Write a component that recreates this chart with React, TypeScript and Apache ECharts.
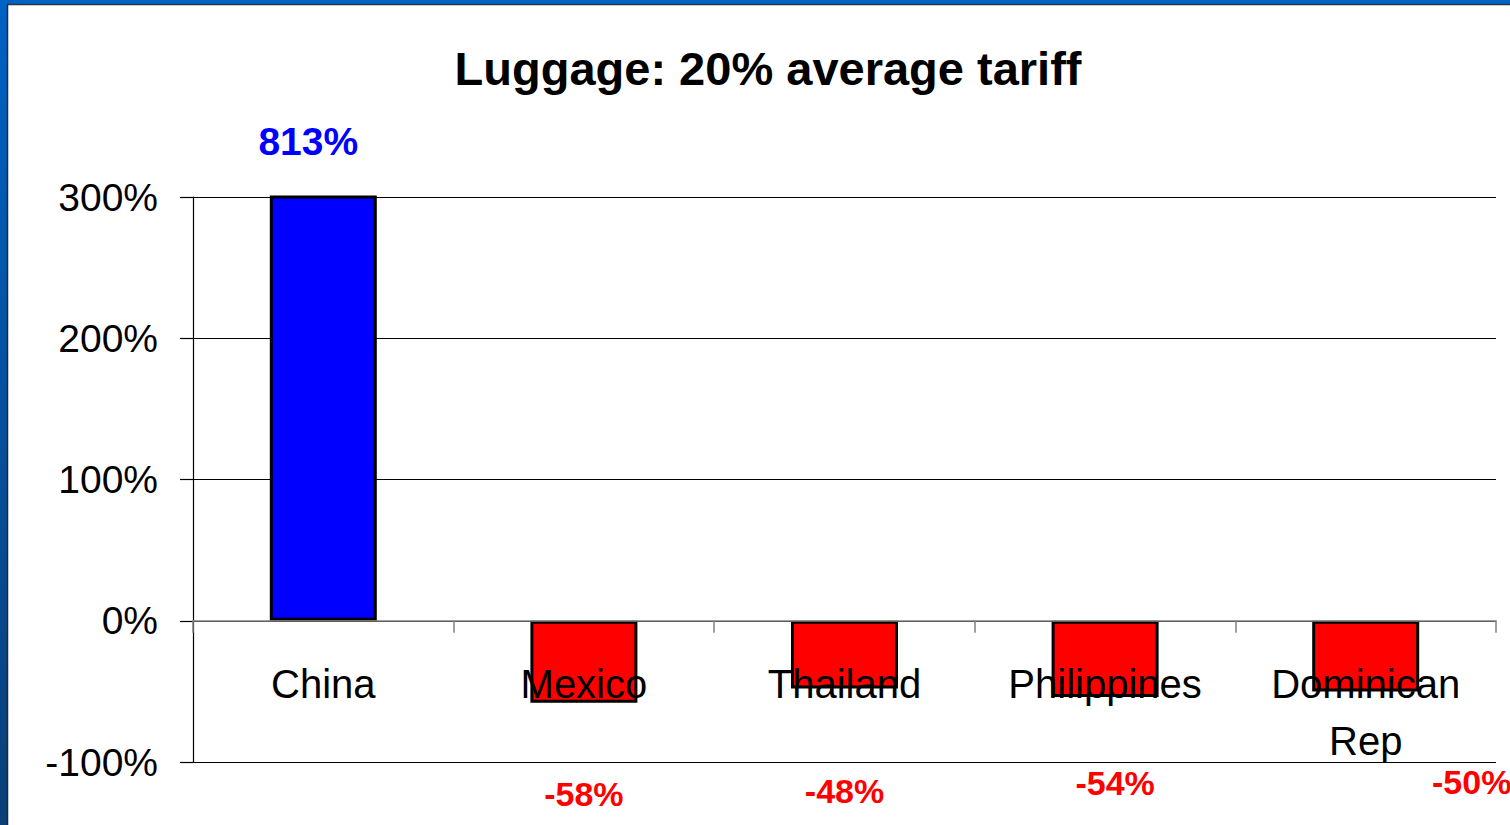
import React, { useEffect, useRef } from "react";
import * as echarts from "echarts";

const title = "Luggage: 20% average tariff";
const countries = ["China", "Mexico", "Thailand", "Philippines", "Dominican Rep"];
const changes = [813, -58, -48, -54, -50];
const yTicks = { min: -100, max: 300, interval: 100 };

export default function App() {
  const ref = useRef<HTMLDivElement>(null);
  useEffect(() => {
    const chart = echarts.init(ref.current!, null, { renderer: "svg" });
    const labelDistances = [35, 74, 85, 69, 74];
    const labelOffsets = [[-15, 0], [0, 0], [0, 0], [10, 0], [106, 0]];
    const data = changes.map((v, i) => ({
      value: v,
      itemStyle: { color: v >= 0 ? "#0000ff" : "#ff0000" },
      label: {
        color: v >= 0 ? "#0000ff" : "#ff0000",
        position: v >= 0 ? "top" : "bottom",
        distance: labelDistances[i],
        offset: labelOffsets[i],
        fontSize: v >= 0 ? 39 : 34,
      },
    }));
    chart.setOption({
      animation: false,
      backgroundColor: "#ffffff",
      textStyle: { fontFamily: "Liberation Sans, Arial, sans-serif" },
      graphic: [
        {
          type: "rect",
          shape: { x: 0, y: 0, width: 7, height: 825 },
          style: {
            fill: new echarts.graphic.LinearGradient(0, 0, 0, 1, [
              { offset: 0, color: "#0062c4" },
              { offset: 1, color: "#0a3f78" },
            ]),
          },
          silent: true,
        },
        {
          type: "rect",
          shape: { x: 0, y: 0, width: 1510, height: 4 },
          style: { fill: "#0062c4" },
          silent: true,
        },
        {
          type: "line",
          shape: { x1: 7.5, y1: 4.5, x2: 7.5, y2: 825 },
          style: { stroke: "#1a2a3a", lineWidth: 1.5 },
          silent: true,
        },
        {
          type: "line",
          shape: { x1: 7, y1: 4.5, x2: 1510, y2: 4.5 },
          style: { stroke: "#2a3440", lineWidth: 1.5 },
          silent: true,
        },
      ],
      title: {
        text: title,
        left: 763,
        top: 40,
        textAlign: "center",
        textStyle: {
          fontFamily: "Liberation Sans, Arial, sans-serif",
          fontSize: 47,
          fontWeight: "bold",
          color: "#000",
        },
      },
      grid: {
        left: 193,
        right: 14,
        top: 197,
        bottom: 63,
        containLabel: false,
        outerBoundsMode: "none",
      },
      xAxis: {
        type: "category",
        data: countries,
        axisLine: { show: true, onZero: true, lineStyle: { color: "#808080", width: 1.5 } },
        axisTick: { show: true, length: 12, lineStyle: { color: "#808080", width: 1.5 } },
        axisLabel: {
          fontSize: 40,
          color: "#000",
          margin: -107,
          lineHeight: 57,
          interval: 0,
          formatter: (v: string) => v.replace(" ", "\n"),
        },
        z: 5,
      },
      yAxis: {
        type: "value",
        min: yTicks.min,
        max: yTicks.max,
        interval: yTicks.interval,
        axisLine: { show: true, lineStyle: { color: "#000", width: 1.2 } },
        axisTick: { show: true, length: 13, lineStyle: { color: "#000", width: 1.2 } },
        axisLabel: { fontSize: 39, color: "#000", margin: 35, formatter: "{value}%" },
        splitLine: { show: true, lineStyle: { color: "#000", width: 1.2 } },
      },
      series: [
        {
          type: "bar",
          data,
          barWidth: 107,
          clip: true,
          itemStyle: { borderColor: "#000", borderWidth: 3 },
          label: {
            show: true,
            fontWeight: "bold",
            formatter: "{c}%",
          },
          z: 3,
        },
      ],
    });
    return () => chart.dispose();
  }, []);
  return (
    <div
      ref={ref}
      style={{ position: "absolute", left: 0, top: 0, width: 1510, height: 825 }}
    />
  );
}
